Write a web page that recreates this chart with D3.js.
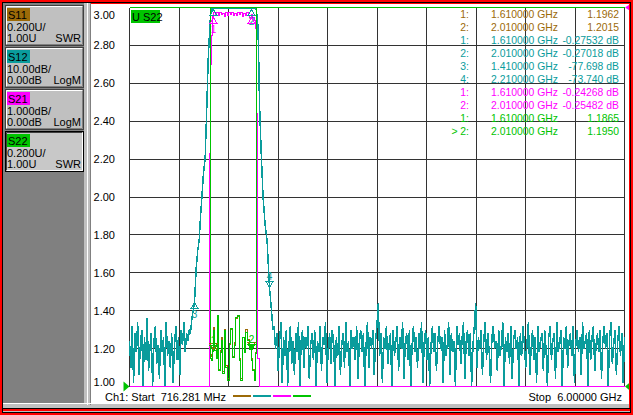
<!DOCTYPE html>
<html>
<head>
<meta charset="utf-8">
<script src="https://cdn.jsdelivr.net/npm/d3@7"></script>
<style>
  body { margin: 0; background: #c0c0c0; }
  svg { display: block; font-family: "Liberation Sans", Arial, sans-serif; }
</style>
</head>
<body>
<div id="chart"></div>
<script>
// sweep
const startGHz = 0.716281
const stopGHz = 6.0

// traces: name, scale/div, reference value, reference position (div from bottom)
const traceNames = ['S11', 'S12', 'S21', 'S22']
const perDiv = [0.2, 10, 1, 0.2]
const refValue = [1, 0, 0, 1]
const refPos = [0, 10, 10, 0]
const scaleText = ['0.200U/', '10.00dB/', '1.000dB/', '0.200U/']
const refText = ['1.00U', '0.00dB', '0.00dB', '1.00U']
const formatText = ['SWR', 'LogM', 'LogM', 'SWR']
const swrTicks = [1.0, 1.2, 1.4, 1.6, 1.8, 2.0, 2.2, 2.4, 2.6, 2.8, 3.0]

// S11 / S22 (SWR), points around the passband; out of band is off scale
const bandFreq = [0.716281, 1.5770, 1.5845, 1.5984, 1.6100, 1.6196, 1.6357, 1.6485, 1.6655, 1.6762,
  1.6890, 1.7018, 1.7189, 1.7370, 1.7551, 1.7722, 1.7903, 1.8085, 1.8255, 1.8436,
  1.8618, 1.8789, 1.8970, 1.9151, 1.9322, 1.9503, 1.9685, 1.9855, 2.0100, 2.0249,
  2.0388, 2.0569, 2.0676, 2.0782, 6.0]
const s11Swr = [25, 18, 1.17, 1.16, 1.1962, 1.31, 1.20, 1.16, 1.36, 1.09,
  1.19, 1.26, 1.08, 1.30, 1.11, 1.04, 1.22, 1.30, 1.16, 1.23,
  1.36, 1.37, 1.15, 1.04, 1.26, 1.19, 1.30, 1.25, 1.2015, 1.15,
  1.09, 1.04, 1.18, 18, 25]
const s22Swr = [25, 18, 1.15, 1.137, 1.1865, 1.296, 1.19, 1.148, 1.375, 1.084,
  1.18, 1.243, 1.069, 1.296, 1.10, 1.032, 1.227, 1.306, 1.153, 1.216,
  1.364, 1.375, 1.137, 1.032, 1.259, 1.18, 1.285, 1.243, 1.195, 1.137,
  1.084, 1.032, 1.174, 18, 25]

// S21 (dB)
const s21Freq = [0.716281, 1.5610, 1.5695, 1.5830, 1.5950, 1.6040, 1.6100, 1.6250, 1.6410, 1.6570,
  1.6730, 1.6890, 1.7050, 1.7210, 1.7370, 1.7530, 1.7690, 1.7850, 1.8010, 1.8170,
  1.8330, 1.8490, 1.8650, 1.8810, 1.8970, 1.9130, 1.9290, 1.9450, 1.9610, 1.9770,
  1.9930, 2.0100, 2.0250, 2.0410, 2.0570, 2.0690, 2.0760, 2.0810, 2.0940, 2.1050, 6.0]
const s21Db = [-45, -30, -3.85, -1.5, -0.75, -0.3, -0.2427, -0.14, -0.22, -0.13,
  -0.20, -0.12, -0.19, -0.15, -0.24, -0.14, -0.21, -0.12, -0.18, -0.13,
  -0.22, -0.15, -0.20, -0.12, -0.19, -0.14, -0.23, -0.15, -0.21, -0.13,
  -0.20, -0.2548, -0.18, -0.27, -0.35, -0.55, -2.8, -7.7, -9.25, -25, -45]

// S12 (dB): noise floor below the band, filter skirts, noise floor above the band
const s12LowRange = [0.716281, 1.355]
const s12LowDb = [-88, -95, -84, -99, -86, -91, -83, -97, -89, -85,
  -100, -87, -93, -82, -96, -90, -86, -101, -88, -84,
  -94, -89, -98, -85, -91, -87, -100, -83, -92, -88,
  -95, -86, -99, -90, -84, -93, -87, -97, -85, -89,
  -83, -91, -86, -88, -85]
const s12SkirtFreq = [1.365, 1.375, 1.385, 1.395, 1.41, 1.428, 1.445, 1.460, 1.475, 1.489,
  1.505, 1.524, 1.542, 1.556, 1.572, 1.583, 1.598, 1.61, 1.70, 1.80,
  1.90, 2.01, 2.05, 2.068, 2.084, 2.094, 2.103, 2.121, 2.142, 2.164,
  2.185, 2.21, 2.222, 2.235, 2.248]
const s12SkirtDb = [-86, -84, -81.5, -80, -77.698, -68.8, -64, -61.4, -55, -50,
  -44, -39.8, -25.8, -13.9, -6, -1.2, -0.3, -0.27532, -0.22, -0.25,
  -0.21, -0.27018, -0.3, -0.45, -3.4, -11.3, -24.5, -37.7, -50, -57.4,
  -61.4, -73.74, -77, -81, -85]
const s12HighRange = [2.26, 6.0]
const s12HighDb = [
  -84, -90, -86, -96, -88, -83, -99, -87, -92, -85, -101, -89, -84, -94, -88, -97, -86, -91, -83, -100,
  -88, -85, -95, -87, -90, -84, -98, -89, -86, -93, -85, -102, -88, -91, -84, -96, -87, -89, -83, -99,
  -90, -86, -94, -85, -88, -100, -87, -92, -84, -97, -89, -86, -95, -83, -91, -88, -101, -85, -90, -87,
  -93, -84, -98, -88, -85, -91, -86, -100, -89, -83, -95, -87, -90, -85, -97, -88, -84, -78, -92, -86,
  -99, -87, -90, -84, -94, -89, -86, -101, -85, -92, -88, -84, -96, -87, -90, -83, -98, -88, -86, -93,
  -85, -100, -89, -84, -91, -87, -95, -86, -90, -83, -99, -88, -85, -93, -87, -102, -89, -84, -91, -86,
  -96, -88, -84, -90, -87, -99, -85, -92, -89, -83, -97, -86, -91, -88, -100, -84, -89, -86, -94, -87,
  -83, -98, -88, -85, -92, -86, -101, -89, -84, -78, -95, -87, -90, -85, -97, -88, -83, -93, -86, -91,
  -99, -87, -84, -90, -88, -96, -85, -92, -89, -83, -100, -87, -91, -86, -94, -84, -98, -88, -85, -90,
  -87, -101, -86, -92, -84, -89, -95, -88, -83, -97, -90, -85, -93, -87, -99, -84, -91, -88, -86, -96,
  -85, -90, -100, -87, -84, -93, -88, -86, -98, -83, -91, -89, -85, -102, -87, -90, -84, -95, -88, -86,
  -92, -84, -99, -89, -85, -91, -87, -97, -83, -90, -88, -86, -100, -85, -93, -87, -84, -96, -89, -86,
  -91, -85, -98, -88, -84, -90, -86, -101, -87, -83, -94, -89, -85, -97, -88, -84, -92, -86, -99, -87]

// markers
const markerTrace = ['S11', 'S11', 'S12', 'S12', 'S12', 'S12', 'S21', 'S21', 'S22', 'S22']
const markerNum = [1, 2, 1, 2, 3, 4, 1, 2, 1, 2]
const markerFreq = [1.61, 2.01, 1.61, 2.01, 1.41, 2.21, 1.61, 2.01, 1.61, 2.01]
const markerValue = [1.1962, 1.2015, -0.27532, -0.27018, -77.698, -73.740, -0.24268, -0.25482, 1.1865, 1.1950]
const activeMarker = 9

// ---- styles / layout ----
const colors = { S11: '#9c6a08', S12: '#0a9c9c', S21: '#ff00ff', S22: '#00c400' }
const markerSide = ['up', 'up', 'down', 'down', 'down', 'up', 'down', 'down', 'up', 'up']
// numbers hidden under other markers in the instrument view are not drawn
const markerLabel = [false, false, false, true, true, true, true, false, true, true]
const W = 633, H = 415
const plot = { left: 129.5, right: 624.5, top: 7.5, bottom: 386.5 }

const svg = d3.select('#chart').append('svg')
  .attr('width', W).attr('height', H)
  .attr('viewBox', [0, 0, W, H])

svg.append('rect').attr('width', W).attr('height', H).attr('fill', '#c0c0c0')

// left trace panel
svg.append('rect').attr('x', 3).attr('y', 3).attr('width', 81).attr('height', 400).attr('fill', '#808080')
svg.append('line').attr('x1', 87.5).attr('x2', 87.5).attr('y1', 3).attr('y2', 405).attr('stroke', '#fff')
svg.append('line').attr('x1', 90.5).attr('x2', 90.5).attr('y1', 3).attr('y2', 405).attr('stroke', '#808080')
svg.append('line').attr('x1', 3).attr('x2', 91).attr('y1', 403.5).attr('y2', 403.5).attr('stroke', '#fff')

const buttons = svg.append('g').selectAll('g')
  .data(traceNames)
  .join('g')
  .attr('transform', (d, i) => `translate(5,${5 + i * 42})`)

buttons.append('rect')
  .attr('x', 0.5).attr('y', 0.5).attr('width', 78).attr('height', 40)
  .attr('fill', (d, i) => i === 3 ? '#c8c8c8' : '#c0c0c0')
  .attr('stroke', (d, i) => i === 3 ? '#000' : '#404040')
buttons.append('path')
  .attr('d', 'M1.5,39.5 V1.5 H77.5')
  .attr('fill', 'none')
  .attr('stroke', (d, i) => i === 3 ? '#404040' : '#fff')
buttons.append('path')
  .attr('d', 'M1.5,39.5 H77.5 V1.5')
  .attr('fill', 'none')
  .attr('stroke', (d, i) => i === 3 ? '#fff' : '#808080')
buttons.append('rect')
  .attr('x', 2).attr('y', 3).attr('width', 23).attr('height', 13)
  .attr('fill', d => colors[d])
buttons.append('text')
  .attr('x', 3).attr('y', 13.5)
  .attr('font-size', 11)
  .text(d => d)
buttons.append('text')
  .attr('x', 2).attr('y', 25.7)
  .attr('font-size', 11)
  .text((d, i) => scaleText[i])
buttons.append('text')
  .attr('x', 2).attr('y', 37.3)
  .attr('font-size', 11)
  .text((d, i) => refText[i])
buttons.append('text')
  .attr('x', 76).attr('y', 37.3)
  .attr('font-size', 11)
  .attr('text-anchor', 'end')
  .text((d, i) => formatText[i])

// channel window
svg.append('rect').attr('x', 91).attr('y', 4).attr('width', 538).attr('height', 400).attr('fill', '#fff')

// scales
const x = d3.scaleLinear().domain([startGHz, stopGHz]).range([plot.left, plot.right])
const yFor = i => d3.scaleLinear()
  .domain([refValue[i] - refPos[i] * perDiv[i], refValue[i] + (10 - refPos[i]) * perDiv[i]])
  .range([plot.bottom, plot.top])
  .clamp(true)
const y = {}
traceNames.forEach((t, i) => { y[t] = yFor(i) })

// grid
const xDivs = d3.range(11).map(i => startGHz + i * (stopGHz - startGHz) / 10)
const grid = svg.append('g')
  .attr('stroke', '#333')
  .attr('shape-rendering', 'crispEdges')
grid.selectAll('.v').data(xDivs).join('line')
  .attr('x1', d => x(d)).attr('x2', d => x(d))
  .attr('y1', plot.top).attr('y2', plot.bottom)
grid.selectAll('.h').data(swrTicks).join('line')
  .attr('x1', plot.left).attr('x2', plot.right)
  .attr('y1', d => y.S22(d)).attr('y2', d => y.S22(d))

// y labels for active trace (S22)
svg.append('g')
  .attr('font-size', 11)
  .attr('text-anchor', 'end')
  .selectAll('text')
  .data(swrTicks)
  .join('text')
  .attr('x', 115)
  .attr('y', d => Math.min(386.3, Math.max(18.7, y.S22(d) + 4)))
  .text(d3.format('.2f'))

// traces
const sweep = (range, vals) => vals.map((v, i) => [range[0] + i * (range[1] - range[0]) / (vals.length - 1), v])
const zip = (f, v) => f.map((d, i) => [d, v[i]])
const traceData = {
  S11: zip(bandFreq, s11Swr),
  S12: sweep(s12LowRange, s12LowDb).concat(zip(s12SkirtFreq, s12SkirtDb), sweep(s12HighRange, s12HighDb)),
  S21: zip(s21Freq, s21Db),
  S22: zip(bandFreq, s22Swr)
}
const traceCurve = { S11: d3.curveStep, S12: d3.curveLinear, S21: d3.curveStep, S22: d3.curveStep }

const traceLayer = svg.append('g')
  .attr('fill', 'none')
  .attr('shape-rendering', 'crispEdges')
traceNames.forEach(t => {
  const line = d3.line()
    .x(d => x(d[0]))
    .y(d => y[t](d[1]))
    .curve(traceCurve[t])
  traceLayer.append('path')
    .datum(traceData[t])
    .attr('stroke', colors[t])
    .attr('stroke-width', t === 'S12' ? 1.5 : 1)
    .attr('d', line)
})

// top edge of the active grid
svg.append('line')
  .attr('x1', plot.left).attr('x2', plot.right)
  .attr('y1', y.S22(3)).attr('y2', y.S22(3))
  .attr('stroke', colors.S22)
  .attr('shape-rendering', 'crispEdges')

// markers on traces
const mk = svg.append('g').attr('font-size', 10).attr('text-anchor', 'middle')
markerTrace.forEach((t, i) => {
  const px = Math.round(x(markerFreq[i])) + 0.5
  const py = Math.round(y[t](markerValue[i])) + 0.5
  const s = markerSide[i] === 'up' ? -1 : 1
  mk.append('path')
    .attr('d', `M${px},${py} L${px - 3.5},${py + s * 6} L${px + 3.5},${py + s * 6} Z`)
    .attr('fill', i === activeMarker ? colors[t] : 'none')
    .attr('stroke', colors[t])
    .attr('shape-rendering', 'crispEdges')
  if (markerLabel[i]) {
    mk.append('text')
      .attr('x', px)
      .attr('y', s > 0 ? py + 15 : py - 8)
      .attr('fill', colors[t])
      .text(markerNum[i])
  }
})

// reference level arrows
const refArrows = svg.append('g')
refArrows.append('path')
  .attr('d', `M${plot.left},${y.S22(1)} l-6,-5 v10 z`)
  .attr('fill', colors.S22)
refArrows.append('path')
  .attr('d', `M${plot.right + 0.5},${y.S22(1)} l6,-5 v10 z`)
  .attr('fill', colors.S22)
refArrows.append('path')
  .attr('d', `M${plot.right + 0.5},${y.S21(0)} l6,-4 v8 z`)
  .attr('fill', colors.S21)

// active trace label
svg.append('rect').attr('x', 131).attr('y', 10).attr('width', 29).attr('height', 13).attr('fill', colors.S22)
svg.append('text').attr('x', 132).attr('y', 20.5).attr('font-size', 11)
  .style('white-space', 'pre').text('U S22')

// marker readout table
const fmtVal = d3.format('.5r')
const table = svg.append('g').attr('font-size', 10.4).style('white-space', 'pre')
markerTrace.forEach((t, i) => {
  const by = 18 + i * 13.05
  const isDb = formatText[traceNames.indexOf(t)] === 'LogM'
  table.append('text').attr('x', 469).attr('y', by).attr('text-anchor', 'end')
    .attr('fill', colors[t]).text((i === activeMarker ? '> ' : '') + markerNum[i] + ':')
  table.append('text').attr('x', 491).attr('y', by)
    .attr('fill', colors[t]).text(d3.format('.6f')(markerFreq[i]) + ' GHz')
  table.append('text').attr('x', 619).attr('y', by).attr('text-anchor', 'end')
    .attr('fill', colors[t]).text(fmtVal(markerValue[i]).replace('−', '-') + (isDb ? ' dB' : ''))
})

// footer
svg.append('text').attr('x', 105).attr('y', 401).attr('font-size', 11)
  .style('white-space', 'pre')
  .text(`Ch1: Start  ${d3.format('.3f')(startGHz * 1000)} MHz`)
svg.append('text').attr('x', 622).attr('y', 401).attr('font-size', 11)
  .attr('text-anchor', 'end')
  .style('white-space', 'pre')
  .text(`Stop  ${d3.format('.5f')(stopGHz)} GHz`)
svg.append('g').selectAll('line')
  .data(traceNames)
  .join('line')
  .attr('x1', (d, i) => 233 + i * 20).attr('x2', (d, i) => 251 + i * 20)
  .attr('y1', 396).attr('y2', 396)
  .attr('stroke', d => colors[d])
  .attr('stroke-width', 2)

// window frame
const frame = svg.append('g').attr('fill', 'none').attr('shape-rendering', 'crispEdges')
frame.append('rect').attr('x', 0.5).attr('y', 0.5).attr('width', W - 1).attr('height', H - 1).attr('stroke', '#f00').attr('stroke-width', 1)
frame.append('rect').attr('x', 1.5).attr('y', 1.5).attr('width', W - 3).attr('height', H - 3).attr('stroke', '#f00').attr('stroke-width', 1)
frame.append('rect').attr('x', 2.5).attr('y', 2.5).attr('width', W - 5).attr('height', H - 5).attr('stroke', '#000').attr('stroke-width', 1)
frame.append('line').attr('x1', 91).attr('x2', 630).attr('y1', 3.5).attr('y2', 3.5).attr('stroke', '#f00')
frame.append('line').attr('x1', 629.5).attr('x2', 629.5).attr('y1', 3).attr('y2', 411).attr('stroke', '#f00')
frame.append('line').attr('x1', 3).attr('x2', 630).attr('y1', 409.5).attr('y2', 409.5).attr('stroke', '#f00')
frame.append('line').attr('x1', 3).attr('x2', 630).attr('y1', 410.5).attr('y2', 410.5).attr('stroke', '#f00')
frame.append('line').attr('x1', 3).attr('x2', 630).attr('y1', 408.5).attr('y2', 408.5).attr('stroke', '#000')
</script>
</body>
</html>
